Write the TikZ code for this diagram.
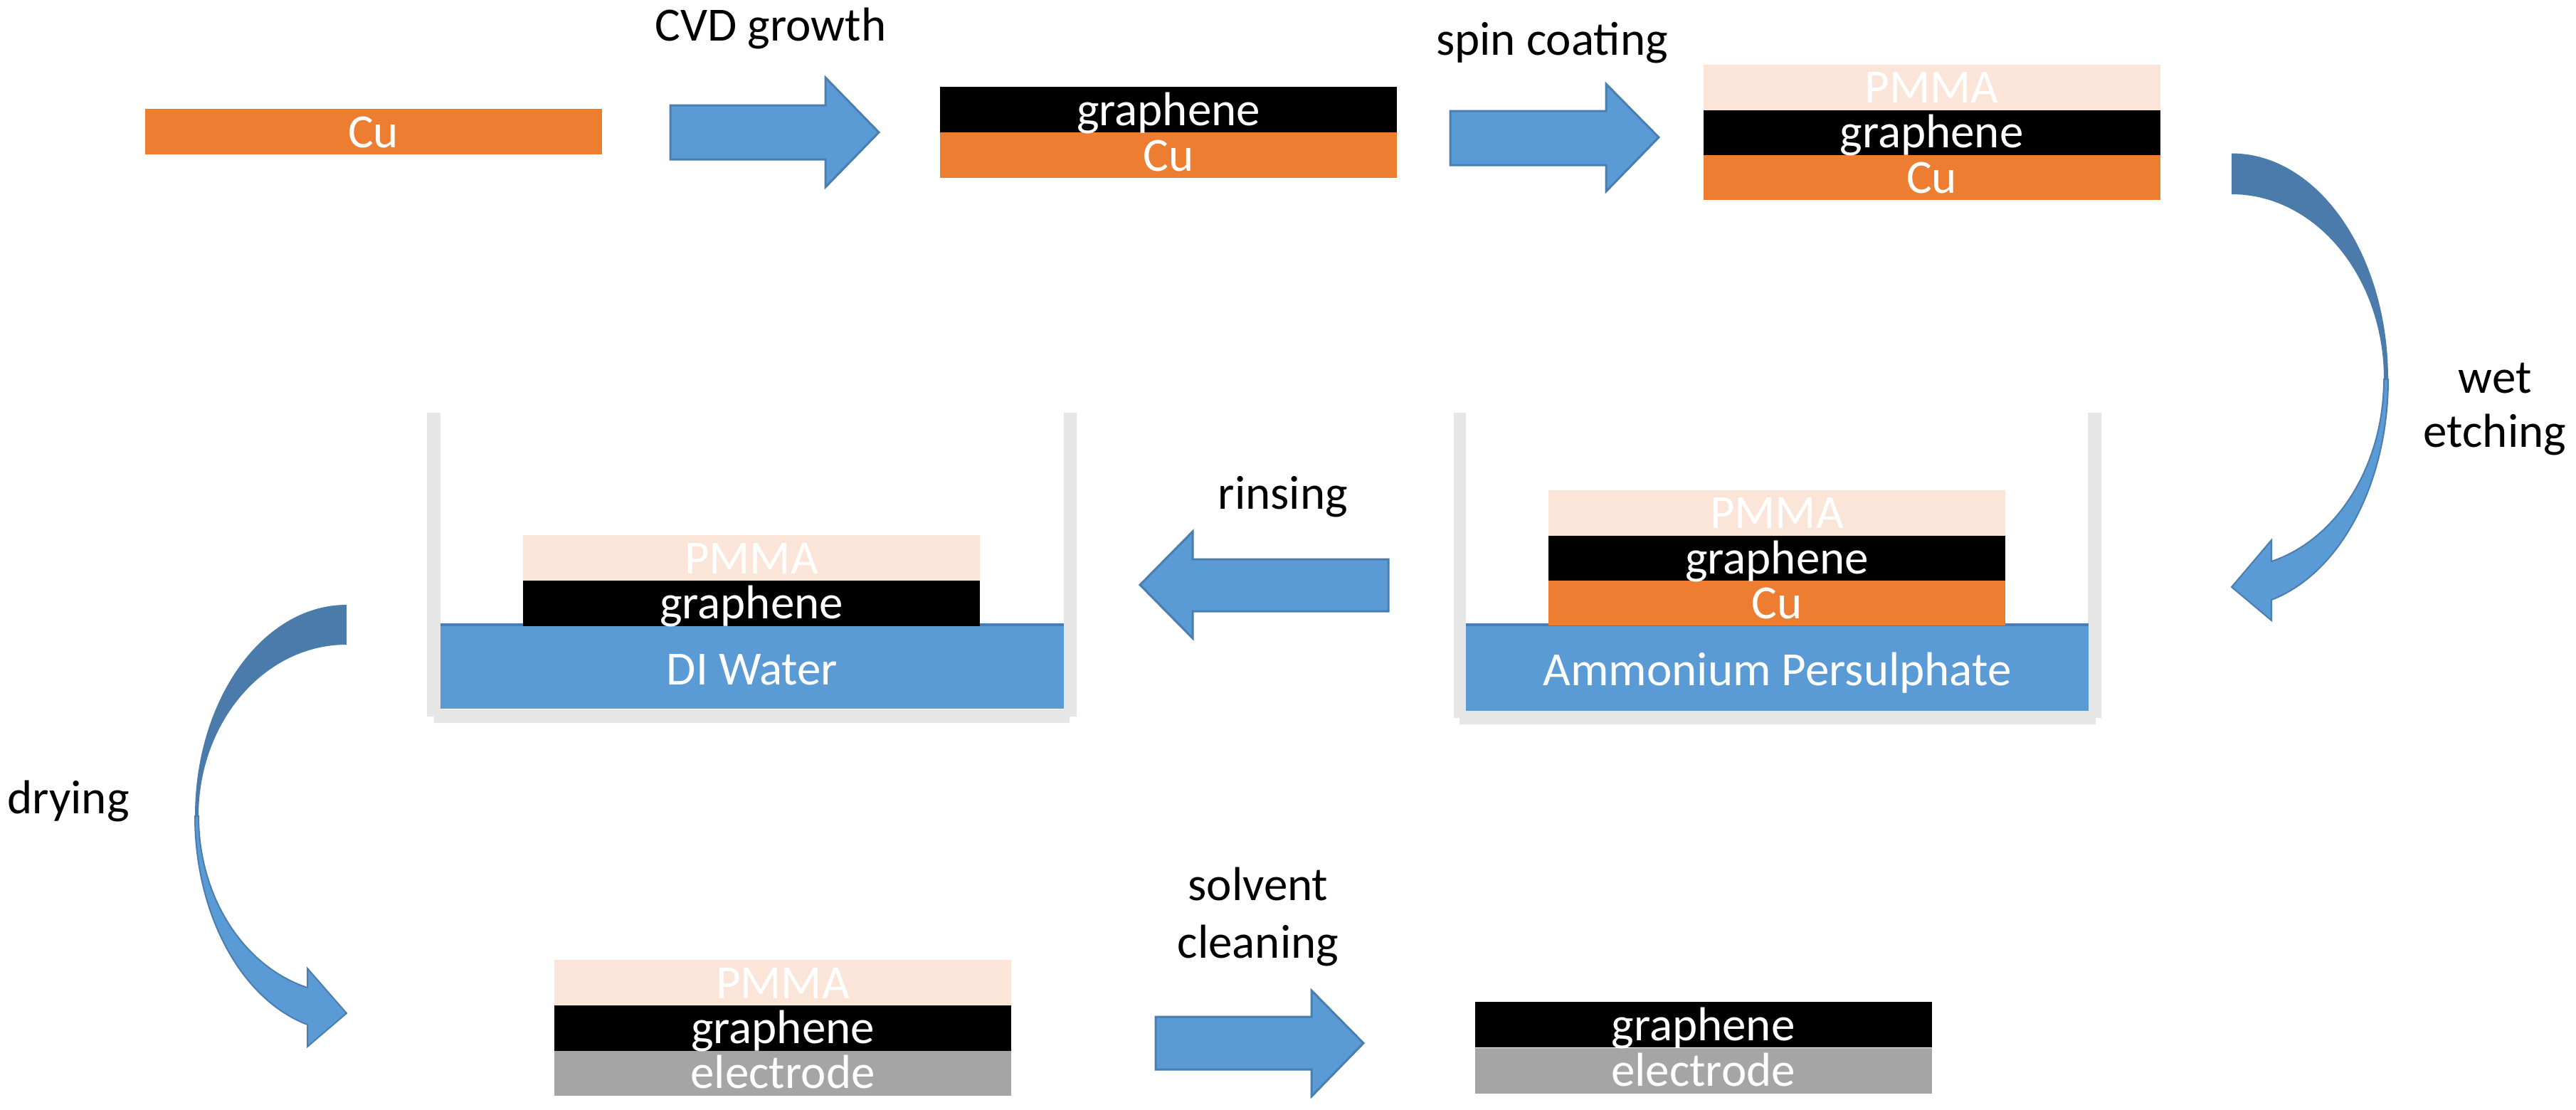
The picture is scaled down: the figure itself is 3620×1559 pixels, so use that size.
\documentclass[tikz,border=0pt]{standalone}
\usepackage{fontspec}
\setmainfont{Carlito}
\definecolor{cuorange}{HTML}{ED7D31}
\definecolor{pmmapeach}{HTML}{FAE5D8}
\definecolor{arrowblue}{HTML}{5B9BD5}
\definecolor{arrowedge}{HTML}{4A7EAE}
\definecolor{backblue}{HTML}{4A7BAA}
\definecolor{electrodegrey}{HTML}{A5A5A5}
\definecolor{wallgrey}{HTML}{E6E6E6}
\tikzset{
  txt/.style={font=\fontsize{67}{78}\selectfont, inner sep=0pt, outer sep=0pt},
  layer/.style={txt, rectangle, text=white, minimum width=642pt, text depth=10pt, text height=#1},
  layer/.default=54pt,
  culayer/.style={layer, fill=cuorange},
  grlayer/.style={layer, fill=black},
  pmlayer/.style={layer, fill=pmmapeach},
  ellayer/.style={layer, fill=electrodegrey},
  liquid/.style={txt, rectangle, fill=arrowblue, text=white},
  lbl/.style={txt, anchor=base, align=center, text=black},
  blockarrow/.style={fill=arrowblue, draw=arrowedge, line width=3pt, line join=miter},
  curvefront/.style={fill=arrowblue, draw=arrowedge, line width=2pt, line join=miter},
  curveback/.style={fill=backblue},
  wall/.style={fill=wallgrey},
  liquidtop/.style={draw=arrowedge, line width=4pt}
}
\begin{document}
\begin{tikzpicture}[x=1pt,y=-1pt]
\useasboundingbox (0,0) rectangle (3620,1559);
% first row
\node[culayer] (cuA) at (524.5,185) {Cu};
\node[culayer] (cuB) at (1642,218) {Cu};
\node[grlayer] (grB) at (1642,154) {graphene};
\node[culayer] (cuC) at (2714.5,249) {Cu};
\node[grlayer] (grC) at (2714.5,185.5) {graphene};
\node[pmlayer] (pmC) at (2714.5,122.5) {PMMA};
\draw[blockarrow] (942,148) -- (1160,148) -- (1160,109) -- (1235,186) -- (1160,263) -- (1160,224) -- (942,224) -- cycle;
\draw[blockarrow] (2038,156) -- (2257,156) -- (2257,118) -- (2331,193) -- (2257,269) -- (2257,232) -- (2038,232) -- cycle;
\node[lbl] (lblCVD) at (1083,57) {CVD growth};
\node[lbl] (lblSpin) at (2181,77) {spin coating};
% right curved arrow
\fill[curveback] (3136,215.5) .. controls (3257.5,215.5) and (3356,357.6) .. (3356,533) -- (3350,533) .. controls (3350,389.4) and (3254.2,273) .. (3136,273) -- cycle;
\draw[curvefront] (3356,533) .. controls (3356,678.6) and (3288.6,805.9) .. (3192,843) -- (3192,872) -- (3136,825) -- (3192,759) -- (3192,789) .. controls (3285.2,757.7) and (3350,652.7) .. (3350,533) -- cycle;
\node[lbl] (lblWet) at (3506,628) {wet\\[-2pt]etching};
% etching bath
\fill[wall] (2043,580) -- (2043,1009) -- (2051,1009) -- (2051,1018) -- (2945,1018) -- (2945,1009) -- (2953,1009) -- (2953,580) -- (2934,580) -- (2934,999) -- (2060,999) -- (2060,580) -- cycle;
\node[liquid, minimum width=875pt, text height=85pt, text depth=36pt] (bathA) at (2497.5,938.5) {Ammonium Persulphate};
\draw[liquidtop] (bathA.north west) -- (bathA.north east);
\node[culayer] (cuD) at (2497,847) {Cu};
\node[grlayer] (grD) at (2497,784) {graphene};
\node[pmlayer] (pmD) at (2497,720.5) {PMMA};
% rinsing
\draw[blockarrow] (1951,786) -- (1676,786) -- (1676,747) -- (1602,822) -- (1676,897) -- (1676,859) -- (1951,859) -- cycle;
\node[lbl] (lblRinse) at (1803,715) {rinsing};
% water bath
\fill[wall] (600,580) -- (600,1007) -- (610,1007) -- (610,1016) -- (1503,1016) -- (1503,1007) -- (1513,1007) -- (1513,580) -- (1495,580) -- (1495,997) -- (619,997) -- (619,580) -- cycle;
\node[liquid, minimum width=876pt, text height=84pt, text depth=34pt] (bathB) at (1057,937) {DI Water};
\draw[liquidtop] (bathB.north west) -- (bathB.north east);
\node[grlayer] (grE) at (1056,847.5) {graphene};
\node[pmlayer] (pmE) at (1056,784) {PMMA};
% left curved arrow
\fill[curveback] (487,850) .. controls (369.4,850) and (274,983) .. (274,1147) -- (279,1147) .. controls (279,1013.9) and (372.1,906) .. (487,906) -- cycle;
\draw[curvefront] (274,1147) .. controls (274,1284.4) and (338.8,1404.5) .. (432,1440) -- (432,1471) -- (487,1424) -- (432,1361) -- (432,1388) .. controls (341.6,1358.2) and (279,1259.6) .. (279,1147) -- cycle;
\node[lbl] (lblDry) at (96,1143) {drying};
% bottom row
\node[ellayer] (elF) at (1100,1507.5) {electrode};
\node[grlayer] (grF) at (1100,1444.5) {graphene};
\node[pmlayer] (pmF) at (1100,1381) {PMMA};
\draw[blockarrow] (1624,1429) -- (1843,1429) -- (1843,1392) -- (1916,1466) -- (1843,1541) -- (1843,1503) -- (1624,1503) -- cycle;
\node[lbl] (lblSolv) at (1768,1346) {solvent\\[3pt]cleaning};
\node[ellayer] (elG) at (2393.5,1504.5) {electrode};
\node[grlayer] (grG) at (2393.5,1440) {graphene};
\end{tikzpicture}
\end{document}
